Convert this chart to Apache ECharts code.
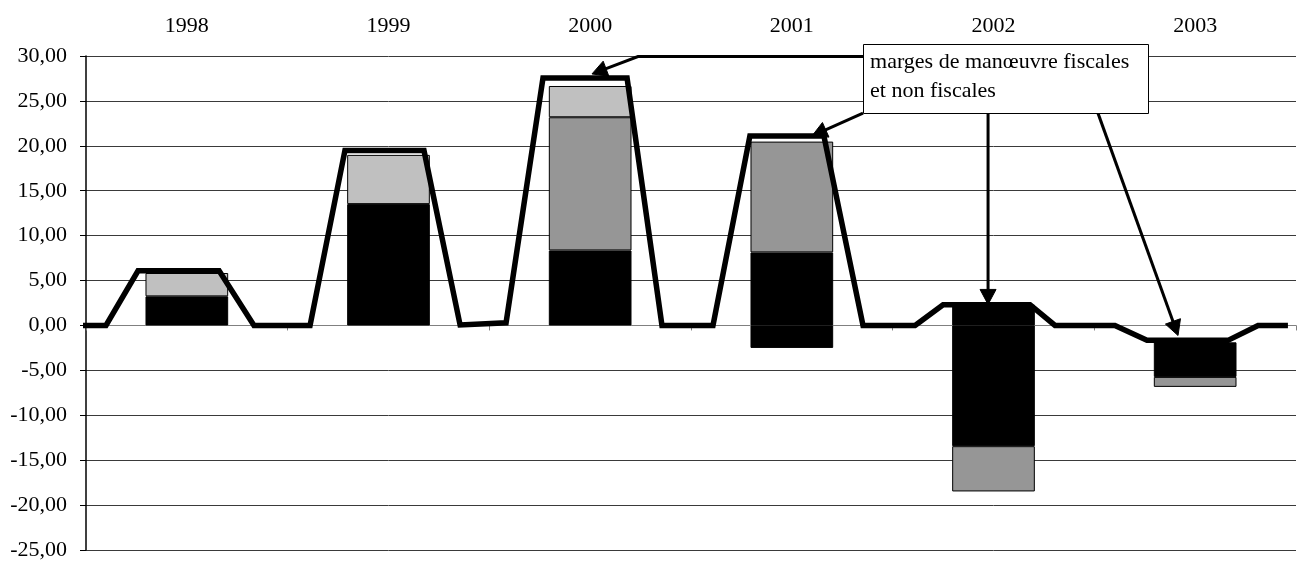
<!DOCTYPE html>
<html>
<head>
<meta charset="utf-8">
<script src="https://cdn.jsdelivr.net/npm/echarts@6/dist/echarts.min.js"></script>
<style>
  html, body { margin: 0; padding: 0; background: #ffffff; }
  #chart { width: 1305px; height: 561px; }
</style>
</head>
<body>
<div id="chart"></div>
<script>
// Years shown along the top of the chart
const years = ['1998', '1999', '2000', '2001', '2002', '2003'];

// Stacked column components (positive parts stack upward, negative parts downward)
const noirPositif   = [3.24, 13.51, 8.35, 8.13, 2.31, null];
const grisPositif   = [null, null, 14.83, 12.34, null, null];
const clairPositif  = [2.60, 5.48, 3.48, null, null, null];
const ecartNegatif  = [null, null, null, null, null, -1.88];
const noirNegatif   = [null, null, null, -2.50, -13.44, -3.85];
const grisNegatif   = [null, null, null, null, -5.04, -1.11];

// Envelope line: position along the year axis (0..6) and value
const enveloppeX = [-0.03, 0.099, 0.258, 0.660, 0.833,
                    1.111, 1.284, 1.676, 1.855,
                    2.083, 2.266, 2.683, 2.856,
                    3.109, 3.292, 3.659, 3.853,
                    4.111, 4.250, 4.681, 4.805,
                    5.102, 5.261, 5.663, 5.812, 5.960];
const enveloppeY = [0, 0, 6.09, 6.09, 0,
                    0, 19.47, 19.47, 0.05,
                    0.30, 27.55, 27.55, 0,
                    0, 21.10, 21.10, 0,
                    0, 2.31, 2.31, 0,
                    0, -1.66, -1.66, 0, 0];

// Value-axis range
const yMin = -25, yMax = 30, yStep = 5;

// Callout text and its arrows, in axis units (year position, value)
const calloutText = ['marges de manœuvre fiscales', 'et non fiscales'];
const calloutBox = { x0: 3.853, x1: 5.266, yTop: 31.3, yBottom: 23.65 };
const calloutArrows = [
  [[3.853, 29.94], [2.737, 29.94], [2.509, 28.0]],
  [[3.853, 23.64], [3.600, 21.10]],
  [[4.473, 23.64], [4.473, 2.34]],
  [[5.018, 23.64], [5.415, -1.12]]
];

const FONT = '"Liberation Serif", "Times New Roman", serif';
const chart = echarts.init(document.getElementById('chart'), null, { renderer: 'canvas' });

function barSeries(name, data, color) {
  return {
    name: name,
    type: 'bar',
    stack: 'marges',
    xAxisIndex: 0,
    yAxisIndex: 0,
    barWidth: '41%',
    data: data,
    itemStyle: {
      color: color,
      borderColor: color === 'transparent' ? 'transparent' : '#000000',
      borderWidth: color === 'transparent' ? 0 : 1
    },
    emphasis: { disabled: true },
    z: 2
  };
}

const option = {
  animation: false,
  backgroundColor: '#ffffff',
  grid: { left: 86, right: 9, top: 56, bottom: 10, containLabel: false },
  xAxis: [
    {
      type: 'category',
      position: 'top',
      data: years,
      axisLine: { show: false, onZero: false },
      axisTick: { show: false },
      axisLabel: { fontFamily: FONT, fontSize: 22, color: '#000', margin: 19 },
      splitLine: { show: false }
    },
    {
      type: 'category',
      position: 'bottom',
      data: years,
      axisLine: { show: true, onZero: true, lineStyle: { color: '#808080', width: 1 } },
      axisTick: { show: true, length: 5, lineStyle: { color: '#808080' } },
      axisLabel: { show: false },
      splitLine: { show: false }
    },
    {
      type: 'value',
      min: 0,
      max: 6,
      show: false,
      axisLine: { onZero: false }
    }
  ],
  yAxis: [{
    type: 'value',
    min: yMin,
    max: yMax,
    interval: yStep,
    axisLine: { show: true, onZero: false, lineStyle: { color: '#000', width: 1.5 } },
    axisTick: { show: true, length: 6, inside: false, lineStyle: { color: '#000' } },
    axisLabel: {
      fontFamily: FONT, fontSize: 22, color: '#000', margin: 19,
      formatter: v => v.toFixed(2).replace('.', ',')
    },
    splitLine: { show: true, lineStyle: { color: '#3a3a3a', width: 1 } }
  }],
  series: [
    barSeries('noir +', noirPositif, '#000000'),
    barSeries('gris +', grisPositif, '#969696'),
    barSeries('clair +', clairPositif, '#c0c0c0'),
    barSeries('écart', ecartNegatif, 'transparent'),
    barSeries('noir -', noirNegatif, '#000000'),
    barSeries('gris -', grisNegatif, '#969696'),
    {
      name: 'enveloppe',
      type: 'line',
      xAxisIndex: 2,
      yAxisIndex: 0,
      data: enveloppeX.map((x, i) => [x, enveloppeY[i]]),
      symbol: 'none',
      clip: false,
      lineStyle: { color: '#000000', width: 5.5, join: 'miter', cap: 'butt' },
      emphasis: { disabled: true },
      z: 5
    }
  ]
};

chart.setOption(option);

// Callout box and arrows, placed through the line series' coordinate system
function toPx(p) { return chart.convertToPixel({ seriesIndex: 6 }, p); }

function arrowGraphics(pts) {
  const px = pts.map(toPx);
  const tip = px[px.length - 1];
  const prev = px[px.length - 2];
  const dx = tip[0] - prev[0], dy = tip[1] - prev[1];
  const len = Math.sqrt(dx * dx + dy * dy);
  const ux = dx / len, uy = dy / len;
  const headLen = 15, headHalf = 8;
  const base = [tip[0] - ux * headLen, tip[1] - uy * headLen];
  const shaft = px.slice(0, -1).concat([[base[0] + ux * 2, base[1] + uy * 2]]);
  return [
    {
      type: 'polyline',
      shape: { points: shaft },
      style: { stroke: '#000', lineWidth: 3, fill: null, lineJoin: 'miter' },
      z: 100
    },
    {
      type: 'polygon',
      shape: { points: [tip,
        [base[0] - uy * headHalf, base[1] + ux * headHalf],
        [base[0] + uy * headHalf, base[1] - ux * headHalf]] },
      style: { fill: '#000', stroke: '#000', lineWidth: 1 },
      z: 100
    }
  ];
}

const tl = toPx([calloutBox.x0, calloutBox.yTop]);
const br = toPx([calloutBox.x1, calloutBox.yBottom]);
let graphics = [];
calloutArrows.forEach(a => { graphics = graphics.concat(arrowGraphics(a)); });
graphics.push({
  type: 'rect',
  shape: { x: Math.round(tl[0]) + 0.5, y: Math.round(tl[1]) + 0.5,
           width: Math.round(br[0] - tl[0]), height: Math.round(br[1] - tl[1]) },
  style: { fill: '#ffffff', stroke: '#000', lineWidth: 1 },
  z: 110
});
graphics.push({
  type: 'text',
  x: tl[0] + 7,
  y: tl[1] + 4,
  style: {
    text: calloutText.join('\n'),
    font: '22px ' + FONT,
    fill: '#000',
    lineHeight: 28.5
  },
  z: 120
});
chart.setOption({ graphic: graphics });
</script>
</body>
</html>
